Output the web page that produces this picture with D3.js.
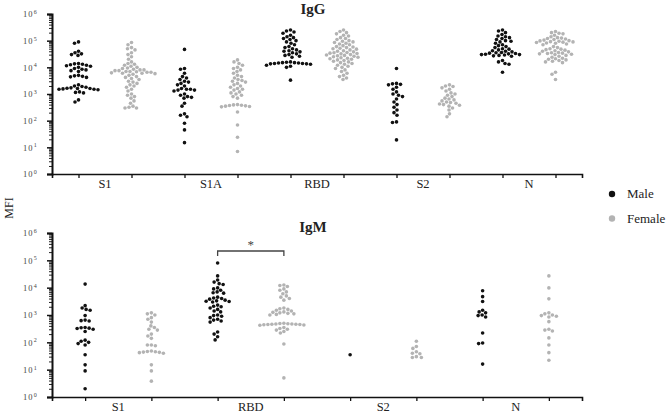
<!DOCTYPE html>
<html>
<head>
<meta charset="utf-8">
<script src="https://cdn.jsdelivr.net/npm/d3@7.9.0/dist/d3.min.js"></script>
<style>
  body { margin: 0; background: #fff; }
  svg { display: block; }
  svg text { font-family: "Liberation Serif", "DejaVu Serif", serif; }
</style>
</head>
<body>
<svg id="chart" width="669" height="419"></svg>
<script>
// categories
const igGCats = ["S1", "S1A", "RBD", "S2", "N"];
const igMCats = ["S1", "RBD", "S2", "N"];
const sexes = ["Male", "Female"];
const decades = [1, 10, 100, 1000, 10000, 100000, 1000000];

// IgG values (MFI), one list per category
const igGMale = [
  [90000, 80000, 40000, 35000, 32000, 30000, 28000, 14000, 13500, 13000, 12500, 12000, 11500, 11000, 10000, 9000, 8500, 8000, 7500, 7000, 5000, 4800, 4600, 4400, 4200, 2200, 2000, 1900, 1800, 1700, 1650, 1600, 1600, 1550, 1500, 1500, 1450, 1200, 1150, 1100, 600, 500],
  [47000, 9000, 8500, 6000, 4500, 4000, 3500, 3000, 2800, 2500, 2200, 2000, 1600, 1500, 1500, 1400, 1400, 1300, 1000, 900, 800, 750, 700, 450, 350, 180, 160, 140, 80, 45, 15],
  [250000, 230000, 210000, 190000, 160000, 140000, 130000, 120000, 110000, 100000, 90000, 80000, 70000, 60000, 55000, 50000, 45000, 42000, 40000, 38000, 35000, 32000, 30000, 28000, 26000, 24000, 16000, 15500, 15000, 15000, 14500, 14500, 14000, 14000, 13500, 13500, 13000, 12000, 11000, 10000, 3300],
  [9000, 2500, 2400, 2300, 2200, 1800, 1500, 1200, 1000, 900, 800, 650, 500, 400, 320, 250, 200, 160, 90, 85, 19],
  [250000, 230000, 200000, 170000, 150000, 140000, 130000, 120000, 110000, 100000, 95000, 90000, 80000, 70000, 65000, 60000, 55000, 50000, 48000, 45000, 42000, 40000, 38000, 36000, 35000, 34000, 33000, 32000, 31000, 30000, 30000, 29000, 28000, 27000, 26000, 18000, 16000, 14000, 13000, 6500]
];
const igGFemale = [
  [85000, 70000, 55000, 50000, 45000, 35000, 30000, 25000, 20000, 16000, 14000, 13000, 12000, 11000, 10000, 9500, 9000, 8500, 8000, 8000, 7500, 7500, 7000, 7000, 6800, 6500, 6500, 6200, 6000, 6000, 5800, 5500, 5000, 4500, 4200, 3800, 3500, 3000, 2800, 2500, 2200, 2000, 1800, 1500, 1300, 1000, 900, 800, 700, 550, 450, 350, 320, 300, 300],
  [19000, 16000, 14000, 12000, 10000, 9000, 8000, 7000, 6000, 5000, 4500, 4000, 3500, 3200, 3000, 2800, 2500, 2200, 2000, 1800, 1600, 1500, 1400, 1200, 1100, 1000, 900, 800, 700, 400, 390, 380, 370, 360, 350, 340, 330, 210, 69, 24, 7],
  [250000, 220000, 200000, 180000, 160000, 150000, 130000, 120000, 110000, 100000, 95000, 90000, 85000, 80000, 75000, 70000, 65000, 60000, 58000, 55000, 52000, 50000, 48000, 45000, 42000, 40000, 38000, 36000, 35000, 34000, 33000, 32000, 30000, 29000, 28000, 27000, 26000, 25000, 24000, 23000, 22000, 21000, 20000, 19000, 18000, 17000, 16000, 15000, 14000, 13000, 12000, 11000, 10000, 9000, 8000, 7000, 6000, 5000, 4500, 4000, 3500],
  [2200, 2000, 1900, 1700, 1500, 1300, 1100, 1000, 900, 800, 700, 650, 600, 550, 500, 480, 450, 420, 400, 380, 350, 300, 250, 180, 140],
  [220000, 200000, 190000, 180000, 160000, 140000, 130000, 125000, 120000, 115000, 110000, 105000, 100000, 98000, 95000, 92000, 90000, 88000, 85000, 82000, 80000, 75000, 70000, 60000, 55000, 50000, 48000, 46000, 44000, 42000, 40000, 38000, 36000, 35000, 34000, 33000, 32000, 31000, 30000, 28000, 26000, 24000, 22000, 21000, 20000, 19000, 18000, 17000, 16000, 15000, 6500, 5500, 3500]
];

// IgM values (MFI)
const igMMale = [
  [13500, 2200, 1800, 1600, 1500, 950, 650, 620, 600, 350, 340, 330, 320, 300, 250, 120, 110, 100, 90, 80, 35, 15, 9, 2],
  [80000, 27000, 19000, 16000, 14000, 13000, 9800, 9000, 8000, 7000, 6500, 6300, 4500, 4200, 4000, 3800, 3500, 3300, 3200, 3100, 3000, 2300, 2100, 2000, 1800, 1600, 1400, 1300, 1000, 950, 900, 800, 700, 650, 600, 550, 240, 200, 160, 123],
  [35],
  [7700, 4700, 3100, 1500, 1300, 1200, 1000, 950, 850, 220, 95, 90, 16]
];
const igMFemale = [
  [1200, 1100, 1000, 800, 700, 550, 400, 350, 300, 280, 200, 170, 140, 80, 80, 75, 48, 46, 45, 44, 43, 42, 40, 15, 9, 3.8],
  [12500, 12000, 11000, 9000, 8000, 7000, 6000, 5000, 4500, 4000, 3500, 1800, 1700, 1600, 1500, 1400, 1300, 1250, 1200, 1150, 1100, 1050, 1000, 500, 490, 480, 470, 470, 460, 460, 450, 450, 440, 430, 420, 350, 320, 300, 280, 250, 220, 87, 5],
  [110, 70, 60, 45, 40, 38, 30, 28, 28],
  [27000, 9800, 3900, 1200, 1100, 1000, 950, 900, 850, 570, 300, 280, 260, 145, 80, 42, 22]
];

const colors = { Male: "#111111", Female: "#b3b3b3" };
const serif = "Liberation Serif, DejaVu Serif, serif";
const R = 1.8;

const svg = d3.select("#chart");

// place points of one group side by side so they do not overlap
function swarm(ys, gap) {
  let placed = [];
  let order = ys.map((y, i) => ({ y, i })).sort((a, b) => a.y - b.y);
  order.forEach((p) => {
    let best = 0;
    for (let k = 0; k < 400; k++) {
      let off = (k % 2 === 0 ? 1 : -1) * Math.ceil(k / 2) * 0.5;
      let clash = placed.some((q) => (q.x - off) ** 2 + (q.y - p.y) ** 2 < gap * gap);
      if (!clash) { best = off; break; }
    }
    placed.push({ x: best, y: p.y });
  });
  return placed;
}

function drawPanel(opts) {
  const { cats, male, female, top, bottom, title, titleY } = opts;
  const left = 52, right = 582;

  let y = d3.scaleLog().domain([1, 1e6]).range([bottom, top]);
  let groups = [];
  cats.forEach((c) => sexes.forEach((s) => groups.push(c + "|" + s)));
  let x = d3.scalePoint().domain(groups).range([left, right]).padding(0.5);
  let xc = d3.scaleBand().domain(cats).range([left, right]);

  let g = svg.append("g");

  // minor ticks
  let minor = [];
  decades.slice(0, -1).forEach((d) => { for (let m = 2; m <= 9; m++) minor.push(d * m); });
  g.append("g")
    .attr("transform", `translate(${left},0)`)
    .call(d3.axisLeft(y).tickValues(minor).tickSize(3).tickFormat(""))
    .call((a) => a.select(".domain").remove())
    .call((a) => a.selectAll("line").attr("stroke", "#222"));

  // major ticks + labels
  let yAxis = g.append("g")
    .attr("transform", `translate(${left},0)`)
    .call(d3.axisLeft(y).tickValues(decades).tickSize(5).tickPadding(9).tickFormat(""))
    .attr("font-family", serif);
  yAxis.select(".domain").attr("stroke-width", 2).attr("stroke", "#111");
  yAxis.selectAll("line").attr("stroke-width", 1.5).attr("stroke", "#111");
  yAxis.selectAll(".tick text")
    .attr("font-family", serif)
    .attr("font-size", 8.5)
    .attr("letter-spacing", 1.2)
    .attr("fill", "#444")
    .attr("dy", "0.35em")
    .each(function (d) {
      let t = d3.select(this);
      t.append("tspan").text("10");
      t.append("tspan").attr("font-size", 6).attr("dy", "-0.6em").text(Math.round(Math.log10(d)));
    });

  // x axis
  let xAxis = g.append("g")
    .attr("transform", `translate(0,${bottom})`)
    .call(d3.axisBottom(x).tickSize(4).tickFormat(""))
    .call((a) => a.selectAll("line").attr("stroke-width", 1.3).attr("stroke", "#111"));
  xAxis.select(".domain").attr("stroke-width", 1.6).attr("stroke", "#111");

  g.append("g")
    .attr("transform", `translate(0,${bottom})`)
    .call(d3.axisBottom(xc).tickSize(0).tickPadding(5))
    .attr("font-family", serif)
    .call((a) => a.select(".domain").remove())
    .call((a) => a.selectAll("text")
      .attr("font-size", 12.5)
      .attr("font-family", serif)
      .attr("fill", "#222"));

  // points
  cats.forEach((c, ci) => {
    [["Male", male[ci]], ["Female", female[ci]]].forEach(([s, vals]) => {
      let pts = swarm(vals.map((v) => y(v)), R * 2 + 0.2);
      g.append("g").selectAll("circle")
        .data(pts)
        .join("circle")
        .attr("cx", (d) => x(c + "|" + s) + d.x)
        .attr("cy", (d) => d.y)
        .attr("r", R)
        .attr("fill", colors[s]);
    });
  });

  g.append("text")
    .attr("x", 313)
    .attr("y", titleY)
    .attr("text-anchor", "middle")
    .attr("font-family", serif)
    .attr("font-weight", "bold")
    .attr("font-size", 15)
    .attr("fill", "#222")
    .text(title);

  return { x, y };
}

drawPanel({ cats: igGCats, male: igGMale, female: igGFemale, top: 14, bottom: 174, title: "IgG", titleY: 14 });
let low = drawPanel({ cats: igMCats, male: igMMale, female: igMFemale, top: 233, bottom: 397, title: "IgM", titleY: 232 });

// significance bracket between RBD male and female
let bx1 = low.x("RBD|Male"), bx2 = low.x("RBD|Female");
svg.append("path")
  .attr("d", `M${bx1},256V251H${bx2}V256`)
  .attr("fill", "none")
  .attr("stroke", "#444")
  .attr("stroke-width", 1.3);
svg.append("text")
  .attr("x", (bx1 + bx2) / 2)
  .attr("y", 249)
  .attr("text-anchor", "middle")
  .attr("font-family", serif)
  .attr("font-size", 13)
  .attr("fill", "#444")
  .text("*");

// y label
svg.append("text")
  .attr("transform", "translate(13,208) rotate(-90)")
  .attr("text-anchor", "middle")
  .attr("font-family", serif)
  .attr("font-size", 12)
  .attr("fill", "#222")
  .text("MFI");

// legend
let legend = svg.append("g");
sexes.forEach((s, i) => {
  let ly = 194 + i * 24.5;
  legend.append("circle").attr("cx", 612).attr("cy", ly).attr("r", 3.2).attr("fill", colors[s]);
  legend.append("text")
    .attr("x", 627)
    .attr("y", ly + 4)
    .attr("font-family", serif)
    .attr("font-size", 13)
    .attr("fill", "#222")
    .text(s);
});
</script>
</body>
</html>
